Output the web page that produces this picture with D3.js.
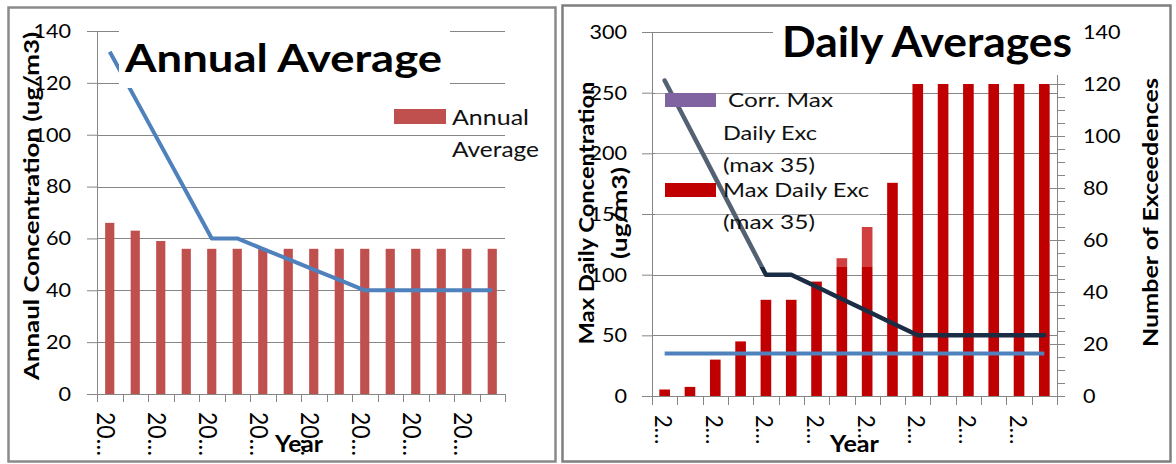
<!DOCTYPE html>
<html>
<head>
<meta charset="utf-8">
<script src="https://cdn.jsdelivr.net/npm/d3@7"></script>
<style>
  body { margin: 0; background: #fff; }
  svg { display: block; font-family: Lato, "Open Sans", sans-serif; }
</style>
</head>
<body>
<svg id="chart" width="1176" height="464"></svg>
<script>
// ---- data (years are truncated to "20…" / "2…" in the source chart)
const years = ["y01", "y02", "y03", "y04", "y05", "y06", "y07", "y08",
               "y09", "y10", "y11", "y12", "y13", "y14", "y15", "y16"];

const annualAverage = [66, 63, 59, 56, 56, 56, 56, 56, 56, 56, 56, 56, 56, 56, 56, 56];
const annualTarget  = [132, 114, 96, 78, 60, 60, 56, 52, 48, 44, 40, 40, 40, 40, 40, 40];
const annualTicks   = [0, 20, 40, 60, 80, 100, 120, 140];

const dailyExceed   = [2.5, 3.5, 14, 21, 37, 37, 44, 53, 65, 82, 120, 120, 120, 120, 120, 120];
const dailyMax      = [260, 220, 180, 140, 100, 100, 90, 80, 70, 60, 50, 50, 50, 50, 50, 50];
const dailyLimit    = [35, 35, 35, 35, 35, 35, 35, 35, 35, 35, 35, 35, 35, 35, 35, 35];
const dailyTicksL   = [0, 50, 100, 150, 200, 250, 300];
const dailyTicksR   = [0, 20, 40, 60, 80, 100, 120, 140];

const S = 1.08;   // source picture is a bit stretched sideways
const GRID = "#868686";

// text helper: horizontal stretch, optional rotation / forced length
function label(g, str, x, y, o = {}) {
    const t = g.append("text")
        .attr("font-size", o.size || 20)
        .attr("font-weight", o.bold ? 700 : 400)
        .attr("fill", o.color || "#000")
        .attr("text-anchor", o.anchor || "start")
        .text(str);
    let tr = `translate(${x},${y})`;
    if (o.rot) tr += ` rotate(${o.rot})`;
    if (o.len) t.attr("textLength", o.len).attr("lengthAdjust", "spacingAndGlyphs");
    if (o.rot) tr += ` scale(1,${S})`;
    else if (!o.len) tr += ` scale(${S},1)`;
    t.attr("transform", tr);
    return t;
}

function styleAxis(g, size) {
    g.select(".domain").attr("stroke", GRID);
    g.selectAll(".tick line").attr("stroke", GRID);
    g.selectAll(".tick text")
        .attr("font-size", size)
        .attr("font-family", "Lato, 'Open Sans', sans-serif")
        .attr("fill", "#000")
        .each(function () {
            const t = d3.select(this);
            const x = +t.attr("x");
            t.attr("x", 0).attr("transform", `translate(${x},0) scale(${S},1)`);
        });
}

const svg = d3.select("#chart");
svg.append("rect").attr("width", 1176).attr("height", 464).attr("fill", "#fff");

// =============== Annual Average panel ===============
const A = svg.append("g");
A.append("rect")
    .attr("x", 8.5).attr("y", 7.5).attr("width", 547).attr("height", 454)
    .attr("fill", "none").attr("stroke", "#8a8a8a").attr("stroke-width", 2.5);

const ax = d3.scaleBand().domain(years).range([97, 505]);
const ay = d3.scaleLinear().domain([0, 140]).range([394, 31]);
const aMid = d => ax(d) + ax.bandwidth() / 2;

A.append("g").selectAll("line")
    .data(annualTicks.filter(d => d > 0))
    .join("line")
    .attr("x1", 97).attr("x2", 505)
    .attr("y1", d => Math.round(ay(d)) + 0.5).attr("y2", d => Math.round(ay(d)) + 0.5)
    .attr("stroke", GRID);

const abw = ax.bandwidth() * 0.36;
A.append("g").selectAll("rect")
    .data(annualAverage)
    .join("rect")
    .attr("x", (d, i) => aMid(years[i]) - abw / 2)
    .attr("y", d => ay(d))
    .attr("width", abw)
    .attr("height", d => ay(0) - ay(d))
    .attr("fill", "#C0504D");

A.append("path")
    .datum(annualTarget)
    .attr("d", d3.line().x((d, i) => aMid(years[i])).y(d => ay(d)))
    .attr("fill", "none").attr("stroke", "#4F81BD")
    .attr("stroke-width", 4).attr("stroke-linejoin", "round");

// legend
A.append("rect").attr("x", 394).attr("y", 109).attr("width", 52).attr("height", 15).attr("fill", "#C0504D");
label(A, "Annual", 452, 125, { size: 22, len: 77, color: "#111" });
label(A, "Average", 452, 157, { size: 22, len: 87, color: "#111" });

// title (white box hides the grid and the line under it)
A.append("rect").attr("x", 119).attr("y", 18).attr("width", 331).attr("height", 70).attr("fill", "#fff");
label(A, "Annual Average", 125, 72, { size: 39, bold: true, len: 317 });

// axes
A.append("g")
    .attr("transform", "translate(97,0)")
    .call(d3.axisLeft(ay).tickValues(annualTicks).tickSize(10).tickPadding(16))
    .call(g => styleAxis(g, 20));

A.append("line").attr("x1", 97).attr("x2", 505)
    .attr("y1", Math.round(ay(0)) + 0.5).attr("y2", Math.round(ay(0)) + 0.5).attr("stroke", GRID);
A.append("g").selectAll("line")
    .data(years.map(d => ax(d)).concat([ax.range()[1]]))
    .join("line")
    .attr("x1", d => Math.round(d) + 0.5).attr("x2", d => Math.round(d) + 0.5)
    .attr("y1", ay(0)).attr("y2", ay(0) + 8)
    .attr("stroke", GRID);

years.forEach((y, i) => {
    if (i % 2 === 0) label(A, "20…", aMid(y) - 12.5, 412, { size: 23, rot: 90 });
});

label(A, "Year", 299, 452, { size: 23, bold: true, anchor: "middle", len: 48 });
label(A, "Annaul Concentration (ug/m3)", 38.5, 206, { size: 20, bold: true, rot: -90, anchor: "middle", len: 348 });

// =============== Daily Averages panel ===============
const D = svg.append("g");
D.append("rect")
    .attr("x", 562.5).attr("y", 5.5).attr("width", 608).attr("height", 456)
    .attr("fill", "none").attr("stroke", "#7f7f7f").attr("stroke-width", 2.5);

const dx = d3.scaleBand().domain(years).range([652, 1057]);
const dyL = d3.scaleLinear().domain([0, 300]).range([396, 32]);
const dyR = d3.scaleLinear().domain([0, 140]).range([396, 32]);
const dMid = d => dx(d) + dx.bandwidth() / 2;

D.append("g").selectAll("line")
    .data(dailyTicksL.filter(d => d > 0))
    .join("line")
    .attr("x1", 652).attr("x2", 1057)
    .attr("y1", d => Math.round(dyL(d)) + 0.5).attr("y2", d => Math.round(dyL(d)) + 0.5)
    .attr("stroke", GRID);

const dbw = dx.bandwidth() * 0.42;
D.append("g").selectAll("rect")
    .data(dailyExceed)
    .join("rect")
    .attr("x", (d, i) => dMid(years[i]) - dbw / 2)
    .attr("y", d => dyR(d))
    .attr("width", dbw)
    .attr("height", d => dyR(0) - dyR(d))
    .attr("fill", "#C00000");

D.append("path")
    .datum(dailyLimit)
    .attr("d", d3.line().x((d, i) => dMid(years[i])).y(d => dyL(d)))
    .attr("fill", "none").attr("stroke", "#4F81BD").attr("stroke-width", 4);

D.append("path")
    .datum(dailyMax)
    .attr("d", d3.line().x((d, i) => dMid(years[i])).y(d => dyL(d)))
    .attr("fill", "none").attr("stroke", "#1b2d45")
    .attr("stroke-width", 4.5).attr("stroke-linejoin", "round").attr("stroke-linecap", "round");

// legend (faint white box over the plot)
D.append("rect").attr("x", 655).attr("y", 72).attr("width", 225).attr("height", 195)
    .attr("fill", "#fff").attr("fill-opacity", 0.25);
D.append("rect").attr("x", 665).attr("y", 93).attr("width", 51).attr("height", 14).attr("fill", "#8064A2");
D.append("rect").attr("x", 665).attr("y", 183).attr("width", 51).attr("height", 14).attr("fill", "#C00000");
label(D, "Corr. Max", 728, 107, { size: 20, len: 105, color: "#111" });
label(D, "Daily Exc", 723, 140, { size: 20, len: 94, color: "#111" });
label(D, "(max 35)", 723, 172, { size: 20, len: 92, color: "#111" });
label(D, "Max Daily Exc", 723, 197, { size: 20, len: 146, color: "#111" });
label(D, "(max 35)", 723, 229, { size: 20, len: 92, color: "#111" });

// axes
D.append("g")
    .attr("transform", "translate(652,0)")
    .call(d3.axisLeft(dyL).tickValues(dailyTicksL).tickSize(10).tickPadding(15))
    .call(g => styleAxis(g, 20));

D.append("g")
    .attr("transform", "translate(1057,0)")
    .call(d3.axisRight(dyR).tickValues(d3.range(0, 141, 5).filter(d => d % 20 !== 0))
        .tickSize(8).tickFormat(""))
    .call(g => styleAxis(g, 20));
D.append("g")
    .attr("transform", "translate(1057,0)")
    .call(d3.axisRight(dyR).tickValues(dailyTicksR).tickSize(8).tickPadding(18))
    .call(g => styleAxis(g, 20));
D.append("g").selectAll("line")
    .data(dailyTicksR)
    .join("line")
    .attr("x1", 1049).attr("x2", 1057)
    .attr("y1", d => Math.round(dyR(d)) + 0.5).attr("y2", d => Math.round(dyR(d)) + 0.5)
    .attr("stroke", GRID);

D.append("line").attr("x1", 652).attr("x2", 1057)
    .attr("y1", Math.round(dyL(0)) + 0.5).attr("y2", Math.round(dyL(0)) + 0.5).attr("stroke", GRID);
D.append("g").selectAll("line")
    .data(years.map(d => dx(d)).concat([dx.range()[1]]))
    .join("line")
    .attr("x1", d => Math.round(d) + 0.5).attr("x2", d => Math.round(d) + 0.5)
    .attr("y1", dyL(0)).attr("y2", dyL(0) + 9)
    .attr("stroke", GRID);

years.forEach((y, i) => {
    if (i % 2 === 0) label(D, "2…", dMid(y) - 9.5, 415, { size: 22, rot: 90 });
});

// title box hides the top of the grid and the right axis
D.append("rect").attr("x", 773).attr("y", 8).attr("width", 305).attr("height", 67).attr("fill", "#fff");
label(D, "Daily Averages", 782, 57, { size: 42, bold: true, len: 290 });

label(D, "Year", 854.5, 452, { size: 23, bold: true, anchor: "middle", len: 49 });
label(D, "Max Daily Concentration", 593.5, 213, { size: 20, bold: true, rot: -90, anchor: "middle", len: 263 });
label(D, "(ug/m3)", 626.5, 213, { size: 20, bold: true, rot: -90, anchor: "middle", len: 92 });
label(D, "Number of Exceedences", 1158, 212.5, { size: 20, bold: true, rot: -90, anchor: "middle", len: 269 });
</script>
</body>
</html>
